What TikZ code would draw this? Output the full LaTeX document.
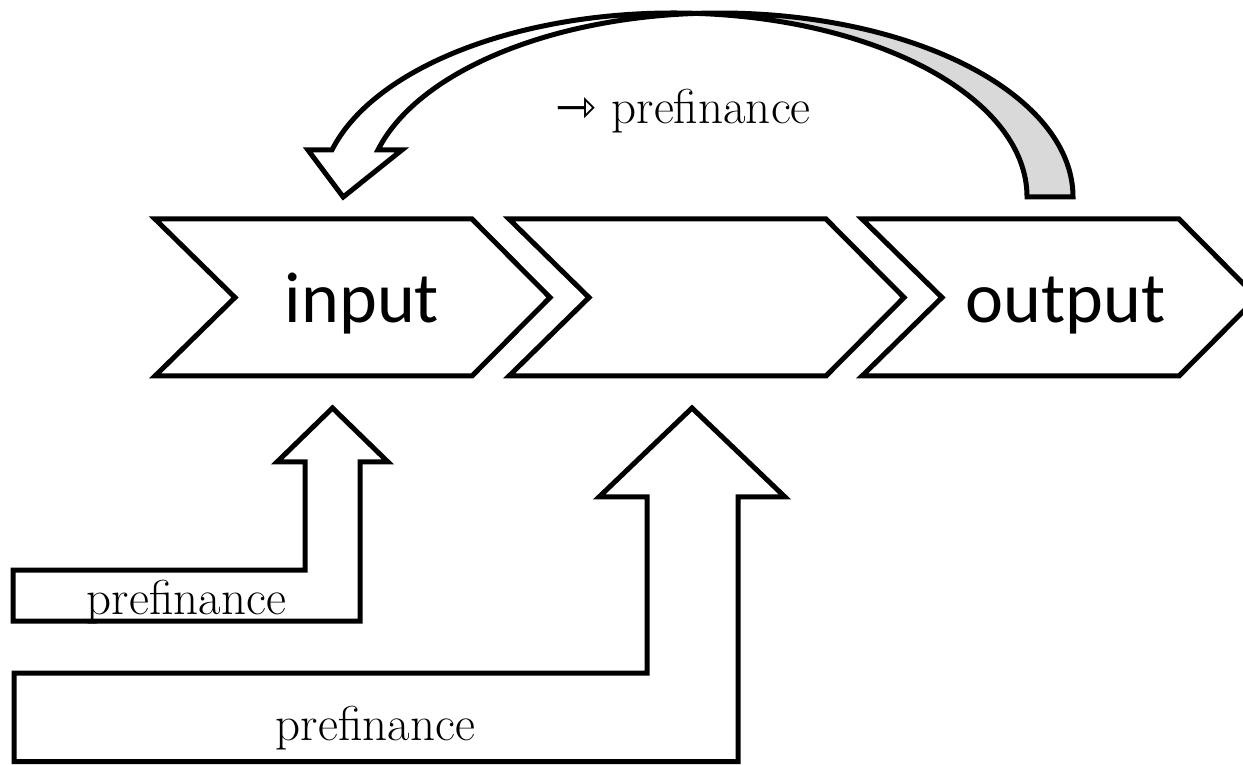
\documentclass[tikz,border=0pt]{standalone}
\usepackage{fontspec}
\newfontfamily\stagefont{Carlito}
\newfontfamily\arrowglyph{DejaVu Sans}
\begin{document}
\begin{tikzpicture}[x=1pt,y=1pt,
  outline/.style={draw=black, line width=5pt, fill=white, line join=miter},
  backface/.style={outline, fill=black!15},
  stage/.style={inner sep=0pt, anchor=base, font=\stagefont\fontsize{72}{72}\selectfont},
  flowlabel/.style={inner sep=0pt, anchor=base, font=\fontsize{49}{49}\selectfont},
  ell/.style={x radius=353.4, y radius=184}]
\useasboundingbox (0,0) rectangle (1243,764);
\fill[white] (0,0) rectangle (1243,764);

% process chevrons
\foreach \L in {155,509,862}{
  \draw[outline] (\L,545) -- ++(317,0) -- ++(78,-78.5) -- ++(-78,-78.5)
    -- ++(-317,0) -- ++(80,78.5) -- cycle;
}
\node[stage] (in)  at (362,441)    {input};
\node[stage] (out) at (1065.5,441) {output};

% curved return arrow: back face (tail) and front face (head)
\draw[backface] (1073,567) arc[start angle=0, end angle=93.73, ell]
  arc[start angle=86.27, end angle=0, ell] -- cycle;
\draw[outline] (696.6,750.61) arc[start angle=86.27, end angle=165.2, ell]
  -- ++(-24,0) -- (343.2,567) -- (401.9,614) -- (377.93,614)
  arc[start angle=165.2, end angle=93.73, ell] -- cycle;
\node[flowlabel, anchor=base east] (ret) at (811,640)
  {{\arrowglyph ⇾} prefinance};

% bent inflow arrows
\draw[outline] (13,194) -- (305,194) -- (305,302) -- (277,302) -- (332.5,356)
  -- (388,302) -- (360,302) -- (360,143) -- (13,143) -- cycle;
\draw[outline] (14,91) -- (647,91) -- (647,267) -- (599,267) -- (692,356)
  -- (785,267) -- (738,267) -- (738,2.5) -- (14,2.5) -- cycle;
\node[flowlabel] (pf1) at (186.5,150) {prefinance};
\node[flowlabel] (pf2) at (375.5,24)  {prefinance};
\end{tikzpicture}
\end{document}
